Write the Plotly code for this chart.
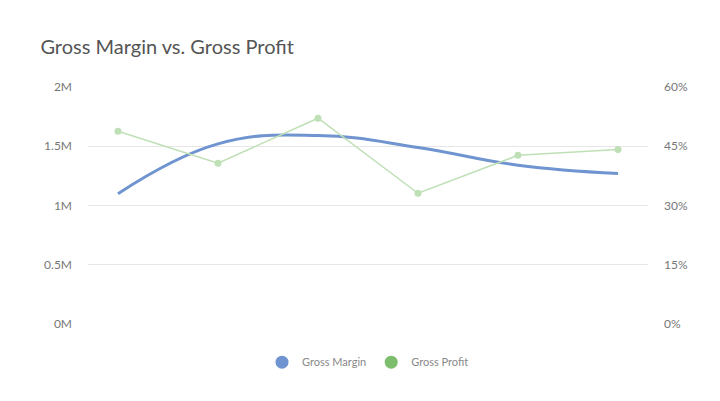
import plotly.graph_objects as go

categories = ["P1", "P2", "P3", "P4", "P5", "P6"]
gross_margin = [1.1e6, 1.52e6, 1.59e6, 1.49e6, 1.34e6, 1.27e6]
gross_profit = [48.8, 40.7, 52.1, 33.1, 42.7, 44.2]

fig = go.Figure()
fig.add_trace(go.Scatter(x=categories, y=gross_margin, name="Gross Margin", mode="lines",
                         showlegend=False,
                         line=dict(color="#6f94cf", width=3, shape="spline", smoothing=1.2)))
fig.add_trace(go.Scatter(x=categories, y=gross_profit, name="Gross Profit", mode="lines+markers",
                         yaxis="y2", showlegend=False, line=dict(color="#bfe0b6", width=1.5),
                         marker=dict(color="#bfe0b6", size=7)))
fig.add_trace(go.Scatter(x=[None], y=[None], name="Gross Margin", mode="markers",
                         marker=dict(color="#6f94cf", size=13)))
fig.add_trace(go.Scatter(x=[None], y=[None], name="Gross Profit", mode="markers",
                         marker=dict(color="#7dbe6c", size=13)))
fig.update_layout(
    width=720, height=401, paper_bgcolor="white", plot_bgcolor="white",
    margin=dict(l=80, r=80, t=79, b=85),
    title=dict(text="Gross Margin vs. Gross Profit", x=0.045, y=0.92, xanchor="left",
               font=dict(family="Lato", size=20, color="#555")),
    font=dict(family="Lato", color="#777", size=12),
    xaxis=dict(showticklabels=False, showgrid=False, showline=False, zeroline=False,
               range=[-0.3, 5.3]),
    yaxis=dict(range=[0, 2e6], tickvals=[0, 5e5, 1e6, 1.5e6, 2e6],
               ticktext=["0M", "0.5M", "1M", "1.5M", "2M"], gridcolor="#e6e6e6",
               zeroline=False, ticklabelstandoff=15),
    yaxis2=dict(range=[0, 60], tickvals=[0, 15, 30, 45, 60],
                ticktext=["0%", "15%", "30%", "45%", "60%"], overlaying="y",
                side="right", showgrid=False, zeroline=False, ticklabelstandoff=15),
    legend=dict(orientation="h", x=0.5, xanchor="center", y=-0.1, yanchor="top",
                font=dict(size=11, color="#888")),
)
fig.write_html("out.html")
